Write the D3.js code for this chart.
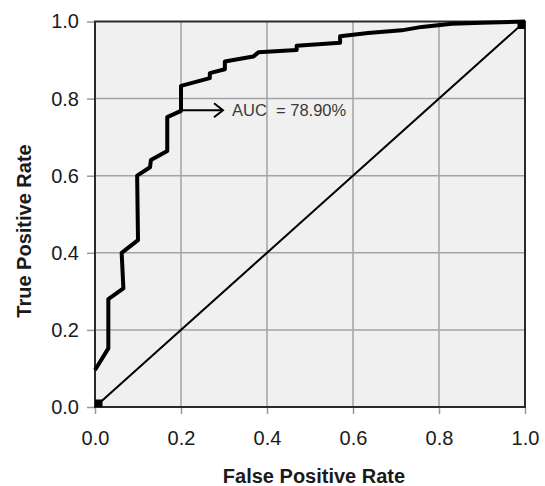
<!DOCTYPE html>
<html>
<head>
<meta charset="utf-8">
<script src="https://cdn.jsdelivr.net/npm/d3@7"></script>
<style>
  html, body { margin: 0; padding: 0; background: #fff; }
  svg { display: block; font-family: "Liberation Sans", Arial, sans-serif; }
</style>
</head>
<body>
<svg id="chart" width="545" height="486"></svg>
<script>
// ---- data ----
const fpr = [0.000, 0.031, 0.031, 0.066, 0.062, 0.100, 0.098, 0.128, 0.130, 0.168, 0.168, 0.200, 0.200,
             0.267, 0.267, 0.302, 0.302, 0.368, 0.380, 0.469, 0.469, 0.570, 0.570, 0.635, 0.713, 0.760,
             0.830, 0.900, 1.000];
const tpr = [0.096, 0.152, 0.280, 0.308, 0.400, 0.433, 0.600, 0.622, 0.641, 0.664, 0.752, 0.768, 0.833,
             0.853, 0.866, 0.876, 0.896, 0.909, 0.920, 0.926, 0.937, 0.945, 0.962, 0.970, 0.977, 0.986,
             0.994, 0.997, 1.000];
const diagX = [0, 1];
const diagY = [0, 1];
const tickValues = [0, 0.2, 0.4, 0.6, 0.8, 1.0];
const gridValues = [0.2, 0.4, 0.6, 0.8];
const aucLabel = "AUC  = 78.90%";
const aucPoint = [0.2, 0.77];
const xTitle = "False Positive Rate";
const yTitle = "True Positive Rate";

// ---- layout ----
const pLeft = 95, pRight = 525, pTop = 21.5, pBottom = 407;
const x = d3.scaleLinear().domain([0, 1]).range([pLeft, pRight]);
const y = d3.scaleLinear().domain([0, 1]).range([pBottom, pTop]);
const svg = d3.select("#chart");

// plot background
svg.append("rect").attr("x", x(0)).attr("y", y(1))
  .attr("width", x(1) - x(0)).attr("height", y(0) - y(1))
  .attr("fill", "#f0f0f0");

// gridlines
svg.append("g").selectAll("line").data(gridValues).join("line")
  .attr("x1", d => x(d)).attr("x2", d => x(d)).attr("y1", y(0)).attr("y2", y(1))
  .attr("stroke", "#a3a3a3").attr("stroke-width", 1.5);
svg.append("g").selectAll("line").data(gridValues).join("line")
  .attr("y1", d => y(d)).attr("y2", d => y(d)).attr("x1", x(0)).attr("x2", x(1))
  .attr("stroke", "#a3a3a3").attr("stroke-width", 1.5);

// axes
const fmt = d3.format(".1f");
const xAxis = svg.append("g").attr("transform", `translate(0,${y(0)})`)
  .call(d3.axisBottom(x).tickValues(tickValues).tickFormat(fmt).tickSize(7).tickPadding(17));
const yAxis = svg.append("g").attr("transform", `translate(${x(0)},0)`)
  .call(d3.axisLeft(y).tickValues(tickValues).tickFormat(fmt).tickSize(8).tickPadding(8));
[xAxis, yAxis].forEach(g => {
  g.select(".domain").remove();
  g.selectAll(".tick line").attr("stroke", "#999").attr("stroke-width", 1.5);
  g.selectAll(".tick text").attr("fill", "#1a1a1a")
    .style("font-size", "20px").style("font-family", "'Liberation Sans', Arial, sans-serif");
});

// plot border
svg.append("rect").attr("x", x(0)).attr("y", y(1))
  .attr("width", x(1) - x(0)).attr("height", y(0) - y(1))
  .attr("fill", "none").attr("stroke", "#2a2a2a").attr("stroke-width", 2);

// diagonal reference
const line = d3.line().x(d => x(d[0])).y(d => y(d[1]));
svg.append("path").datum(diagX.map((v, i) => [v, diagY[i]]))
  .attr("d", line).attr("fill", "none").attr("stroke", "#000").attr("stroke-width", 2);

// square markers at corners
const m = 7.5;
svg.append("rect").attr("x", x(diagX[0])).attr("y", y(diagY[0]) - m).attr("width", m).attr("height", m).attr("fill", "#000");
svg.append("rect").attr("x", x(diagX[1]) - m).attr("y", y(diagY[1])).attr("width", m).attr("height", m).attr("fill", "#000");

// ROC curve
svg.append("path").datum(fpr.map((v, i) => [v, tpr[i]]))
  .attr("d", line).attr("fill", "none").attr("stroke", "#000")
  .attr("stroke-width", 4).attr("stroke-linejoin", "round");

// AUC annotation arrow
const ax0 = x(aucPoint[0]), ay = y(aucPoint[1]);
const ax1 = ax0 + 42;
svg.append("line").attr("x1", ax0).attr("x2", ax1).attr("y1", ay).attr("y2", ay)
  .attr("stroke", "#000").attr("stroke-width", 2);
svg.append("path").attr("d", `M${ax1 - 9},${ay - 7} L${ax1},${ay} L${ax1 - 9},${ay + 7}`)
  .attr("fill", "none").attr("stroke", "#000").attr("stroke-width", 2);
svg.append("text").attr("x", ax1 + 9).attr("y", ay + 5.5)
  .attr("fill", "#3a3a3a").style("font-size", "16.5px").style("white-space", "pre")
  .attr("xml:space", "preserve").text(aucLabel);

// axis titles
svg.append("text").attr("x", 314).attr("y", 483).attr("text-anchor", "middle")
  .attr("fill", "#1a1a1a").style("font-size", "20px").style("font-weight", "bold").text(xTitle);
svg.append("text").attr("transform", "translate(31,231) rotate(-90)").attr("text-anchor", "middle")
  .attr("fill", "#1a1a1a").style("font-size", "20px").style("font-weight", "bold").text(yTitle);
</script>
</body>
</html>
